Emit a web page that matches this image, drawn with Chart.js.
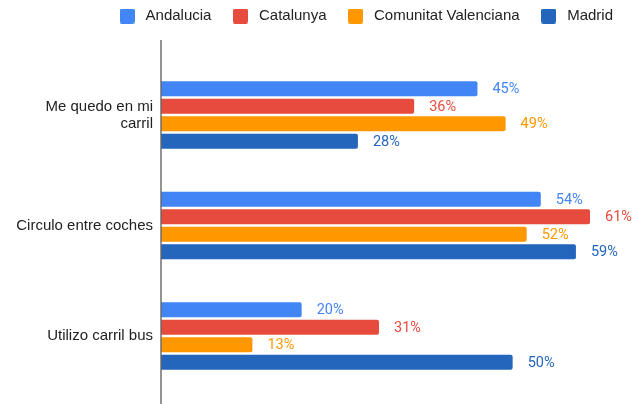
<!DOCTYPE html>
<html>
<head>
<meta charset="utf-8">
<script src="https://cdn.jsdelivr.net/npm/chart.js@4"></script>
<style>
  html, body { margin: 0; padding: 0; background: #fff; }
  #wrap { width: 633px; height: 404px; position: relative; }
</style>
</head>
<body>
<div id="wrap"><canvas id="chartCanvas"></canvas></div>
<script>
// 카테고리 (세로축)
const categories = [["Me quedo en mi", "carril"], "Circulo entre coches", "Utilizo carril bus"];

// 시리즈 값 (%)
const andalucia = [45, 54, 20];
const catalunya = [36, 61, 31];
const valenciana = [49, 52, 13];
const madrid = [28, 59, 50];

const seriesNames = ["Andalucia", "Catalunya", "Comunitat Valenciana", "Madrid"];
const seriesColors = ["#4285F4", "#E64B3D", "#FF9800", "#2366BC"];

const labelFont = '"Liberation Sans", Arial, sans-serif';

// 범례용 작은 사각형 (둥근 모서리)
function legendBox(color) {
  const c = document.createElement("canvas");
  c.width = 15;
  c.height = 15;
  const g = c.getContext("2d");
  g.fillStyle = color;
  g.beginPath();
  g.roundRect(0, 0, 15, 15, 2);
  g.fill();
  return c;
}
const legendBoxes = seriesColors.map(legendBox);

// 막대 끝에 값 표시
const barLabels = {
  id: 'barLabels',
  afterDatasetsDraw(chart) {
    const ctx = chart.ctx;
    ctx.save();
    ctx.font = '14.5px Roboto, "Liberation Sans", sans-serif';
    ctx.textAlign = 'left';
    ctx.textBaseline = 'middle';
    chart.data.datasets.forEach((ds, i) => {
      const meta = chart.getDatasetMeta(i);
      ctx.fillStyle = ds.backgroundColor;
      meta.data.forEach((bar, j) => {
        ctx.fillText(ds.data[j] + '%', bar.x + 15, bar.y + 1);
      });
    });
    ctx.restore();
  }
};

// 세로 축선 (범례 아래부터 아래 끝까지)
const axisLine = {
  id: 'axisLine',
  afterDraw(chart) {
    const ctx = chart.ctx;
    const x = chart.chartArea.left;
    ctx.save();
    ctx.strokeStyle = '#666';
    ctx.lineWidth = 1.4;
    ctx.beginPath();
    ctx.moveTo(x, 40);
    ctx.lineTo(x, chart.height);
    ctx.stroke();
    ctx.restore();
  }
};

const datasets = [andalucia, catalunya, valenciana, madrid].map((vals, i) => ({
  label: seriesNames[i],
  data: vals,
  backgroundColor: seriesColors[i],
  borderRadius: 2,
  barPercentage: 0.86,
  categoryPercentage: 0.633
}));

new Chart(document.getElementById("chartCanvas").getContext("2d"), {
  type: 'bar',
  data: { labels: categories, datasets: datasets },
  options: {
    indexAxis: 'y',
    responsive: true,
    maintainAspectRatio: false,
    animation: false,
    layout: { padding: { top: -9.5, right: 2, bottom: 12.75, left: 0 } },
    plugins: {
      tooltip: { enabled: false },
      legend: {
        position: 'top',
        align: 'end',
        labels: {
          usePointStyle: true,
          pointStyleWidth: 22,
          boxHeight: 15,
          padding: 18,
          color: '#222',
          font: { family: labelFont, size: 15 },
          generateLabels(chart) {
            const items = Chart.defaults.plugins.legend.labels.generateLabels(chart);
            items.forEach((it, i) => { it.pointStyle = legendBoxes[i]; });
            return items;
          }
        }
      }
    },
    scales: {
      x: {
        position: 'top',
        min: 0,
        max: 66.83,
        ticks: { display: false },
        grid: { display: false, drawTicks: true, tickLength: 26.25 },
        border: { display: false }
      },
      y: {
        grid: { display: false, drawTicks: false },
        border: { display: false },
        ticks: {
          color: '#222',
          padding: 8,
          font: { family: labelFont, size: 15, lineHeight: 1.15 }
        },
        afterFit(scale) {
          scale.width = 161;
          // 두 줄 라벨 때문에 생기는 위/아래 여백 제거
          scale.paddingTop = 0;
          scale.paddingBottom = 0;
        }
      }
    }
  },
  plugins: [barLabels, axisLine]
});
</script>
</body>
</html>
